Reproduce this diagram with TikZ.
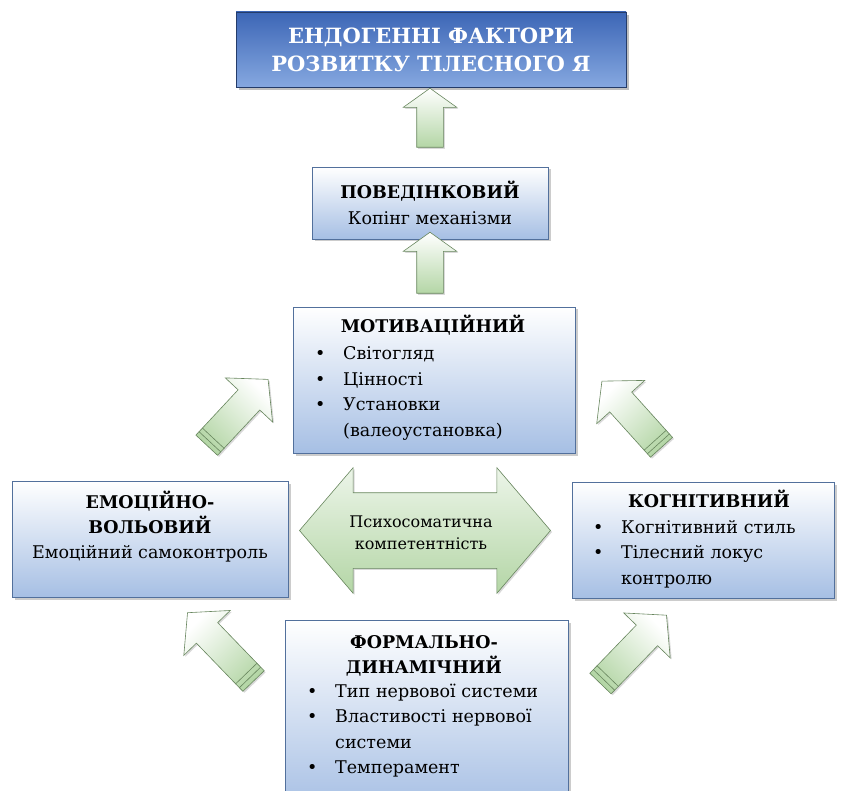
\documentclass[tikz,border=0pt]{standalone}
\usepackage{fontspec}
\setmainfont{DejaVu Serif}
\usetikzlibrary{shapes.arrows,shadows,calc}

\definecolor{boxblue}{RGB}{166,191,228}
\definecolor{boxline}{RGB}{82,112,156}
\definecolor{headtop}{RGB}{60,102,182}
\definecolor{headbot}{RGB}{134,168,224}
\definecolor{headline}{RGB}{36,60,106}
\definecolor{arrgreen}{RGB}{180,214,166}
\definecolor{arrline}{RGB}{104,134,94}

\newcommand\boxfont{\fontsize{17.5}{25.5}\selectfont}
\newcommand\bitem[1]{\makebox[28pt][l]{\textbullet}#1}
\newcommand\bcont[1]{\hspace*{28pt}#1}

\tikzset{
  factor/.style={draw=boxline, line width=0.8pt, top color=white, bottom color=boxblue,
    drop shadow={shadow xshift=2.5pt, shadow yshift=-2.5pt, opacity=.4}},
  goal/.style={draw=headline, line width=0.8pt, top color=headtop, bottom color=headbot,
    drop shadow={shadow xshift=3pt, shadow yshift=-3pt, opacity=.5}},
  ttl/.style={font=\boxfont\bfseries, anchor=base, align=center, text width=270pt, inner sep=0pt},
  lst/.style={font=\boxfont, anchor=base west, align=left, text width=260pt, inner sep=0pt},
  push/.style={single arrow, draw=arrline, line width=0.6pt, inner sep=0pt,
    single arrow head indent=0pt,
    drop shadow={shadow xshift=1.5pt, shadow yshift=-1.5pt, opacity=.3}},
  up/.style={push, inner ysep=13pt, single arrow head extend=13.5pt,
    single arrow tip angle=109, top color=white, bottom color=arrgreen},
  slant/.style={push, inner ysep=14.5pt, single arrow head extend=17.5pt,
    single arrow tip angle=98, top color=white, bottom color=arrgreen, shading angle=#1},
}

\begin{document}
\begin{tikzpicture}[x=1pt,y=-1pt]
  \useasboundingbox (0,0) rectangle (846,791);
  \clip (0,0) rectangle (846,791);

  % goal at the top
  \node[goal, minimum width=390pt, minimum height=75pt, text=white, align=center,
    font=\fontsize{21}{28}\selectfont\bfseries] (endo) at (431,49.5)
    {ЕНДОГЕННІ ФАКТОРИ\\РОЗВИТКУ ТІЛЕСНОГО Я};

  % the five components
  \node[factor, minimum width=236pt, minimum height=72pt, font=\boxfont, align=center]
    (beh) at (430,203) {\textbf{ПОВЕДІНКОВИЙ}\\Копінг механізми};

  \node[factor, minimum width=282pt, minimum height=146pt] (mot) at (434,380) {};
  \node[ttl] (mot-t) at (433,333) {МОТИВАЦІЙНИЙ};
  \node[lst] (mot-l) at (315,360)
    {\bitem{Світогляд}\\ \bitem{Цінності}\\ \bitem{Установки}\\ \bcont{(валеоустановка)}};

  \node[factor, minimum width=276pt, minimum height=116pt] (emo) at (150,539) {};
  \node[ttl] (emo-t) at (150,508) {ЕМОЦІЙНО-\\ВОЛЬОВИЙ};
  \node[font=\boxfont, anchor=base, inner sep=0pt] (emo-s) at (150,558) {Емоційний самоконтроль};

  \node[factor, minimum width=262pt, minimum height=116pt] (cog) at (703,540) {};
  \node[ttl] (cog-t) at (709,507) {КОГНІТИВНИЙ};
  \node[lst] (cog-l) at (593,533)
    {\bitem{Когнітивний стиль}\\ \bitem{Тілесний локус}\\ \bcont{контролю}};

  \node[factor, minimum width=283pt, minimum height=190pt] (form) at (426.5,715) {};
  \node[ttl] (form-t) at (424,648) {ФОРМАЛЬНО-\\ДИНАМІЧНИЙ};
  \node[lst] (form-l) at (307,697)
    {\bitem{Тип нервової системи}\\ \bitem{Властивості нервової}\\ \bcont{системи}\\ \bitem{Темперамент}};

  % block arrows
  \node[up, minimum height=59pt, rotate=90] (up1) at (430,122.5) {};
  \node[up, minimum height=61pt, rotate=90] (up2) at (430,267.5) {};

  \node[slant=-45, minimum height=90pt, rotate=47] (aLU) at (233,417) {};
  \node[slant=45, minimum height=89pt, rotate=132] (aRU) at (636,419) {};
  \node[slant=45, minimum height=95pt, rotate=134] (aLD) at (225,651.5) {};
  \node[slant=-45, minimum height=95pt, rotate=46] (aRD) at (629,654) {};
  \foreach \a in {aLU,aRU,aLD,aRD}
    \foreach \f in {.08,.16}
      \draw[arrline, line width=0.6pt] ($(\a.before tail)!\f!(\a.after head)$)
        -- ($(\a.after tail)!\f!(\a.before head)$);

  \node[double arrow, draw=arrline, line width=0.6pt, inner sep=0pt, inner ysep=37.5pt,
    double arrow head extend=25pt, double arrow tip angle=99, minimum height=251pt,
    top color=white!75!arrgreen, bottom color=arrgreen,
    drop shadow={shadow xshift=1.5pt, shadow yshift=-1.5pt, opacity=.3}] (psy) at (425,530.5) {};
  \node[font=\fontsize{16}{22}\selectfont, align=center, text width=200pt, anchor=base,
    inner sep=0pt] (psy-t) at (421,527) {Психосоматична\\компетентність};
\end{tikzpicture}
\end{document}
